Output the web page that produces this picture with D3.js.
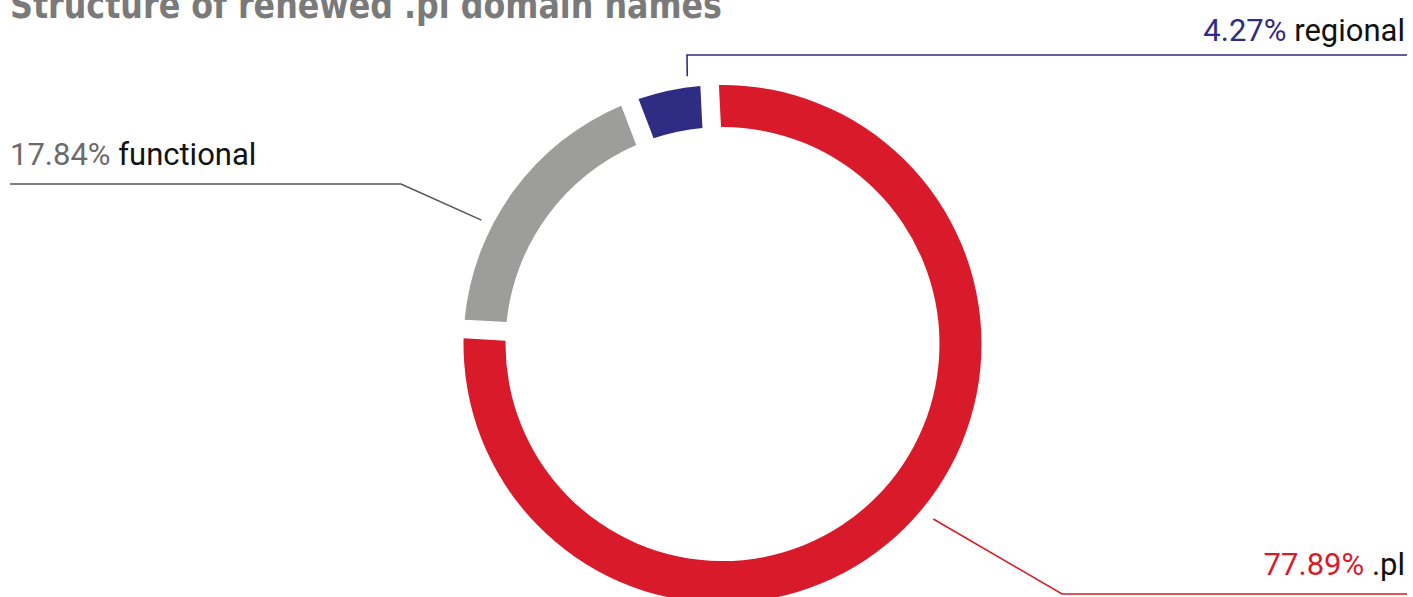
<!DOCTYPE html>
<html>
<head>
<meta charset="utf-8">
<script src="https://cdn.jsdelivr.net/npm/d3@7"></script>
<style>
  html, body { margin: 0; padding: 0; background: #fff; overflow: hidden; }
  svg { display: block; }
</style>
</head>
<body>
<svg id="chart" width="1413" height="597"></svg>
<script>
// ---- data ----
const categories = [".pl", "functional", "regional"];
const shares = [77.89, 17.84, 4.27];
const shareLabels = ["77.89%", "17.84%", "4.27%"];
const colors = ["#D91A2A", "#9D9D9C", "#2E2C83"];
const labelColors = ["#D91A2A", "#6b6b6b", "#2E2C83"];
const lineColors = ["#D91A2A", "#555555", "#2E2C83"];
const title = "Structure of renewed .pl domain names";

// ---- layout ----
const W = 1413, H = 597;
const cx = 722.5, cy = 344, R = 259, r = 217;
const startDeg = -2.85;
// leader layout: anchor angle (deg from top, clockwise), radius, elbow point, line end x, text position
const leaders = [
  { ang: 129.7, rad: 274, elbow: [1062, 594], endX: 1407, textX: 1405, textY: 575, anchor: "end" },
  { ang: 297.2, rad: 271, elbow: [401, 184], endX: 10, textX: 10, textY: 165, anchor: "start" },
  { ang: 352.5, rad: 270, elbow: [687, 55], endX: 1407, textX: 1405, textY: 41, anchor: "end" }
];

const svg = d3.select("#chart");

svg.append("text")
  .attr("x", 10).attr("y", 18)
  .attr("font-family", "'Liberation Sans Narrow', 'DejaVu Sans Condensed', sans-serif")
  .attr("font-weight", "bold")
  .attr("font-size", 38)
  .attr("fill", "#7a7a7a")
  .attr("textLength", 712)
  .attr("lengthAdjust", "spacingAndGlyphs")
  .text(title);

const s0 = startDeg * Math.PI / 180;
const pie = d3.pie().sort(null).value(d => d)
  .startAngle(s0).endAngle(s0 + 2 * Math.PI).padAngle(0.055);
const arcs = pie(shares);
const arc = d3.arc().innerRadius(r).outerRadius(R);

const g = svg.append("g").attr("transform", `translate(${cx},${cy})`);
g.selectAll("path.slice").data(arcs).join("path")
  .attr("class", "slice")
  .attr("d", arc)
  .attr("fill", (d, i) => colors[i]);

// leaders
const line = d3.line();
leaders.forEach((L, i) => {
  const a = L.ang * Math.PI / 180;
  const p0 = [cx + L.rad * Math.sin(a), cy - L.rad * Math.cos(a)];
  const pts = [p0, L.elbow, [L.endX, L.elbow[1]]];
  svg.append("path")
    .attr("d", line(pts))
    .attr("fill", "none")
    .attr("stroke", lineColors[i])
    .attr("stroke-width", 1.6);

  const t = svg.append("text")
    .attr("x", L.textX).attr("y", L.textY)
    .attr("text-anchor", L.anchor)
    .attr("font-family", "Roboto, sans-serif")
    .attr("font-size", 31);
  t.append("tspan").attr("fill", labelColors[i]).text(shareLabels[i]);
  t.append("tspan").attr("fill", "#111").text(" " + categories[i]);
});
</script>
</body>
</html>
